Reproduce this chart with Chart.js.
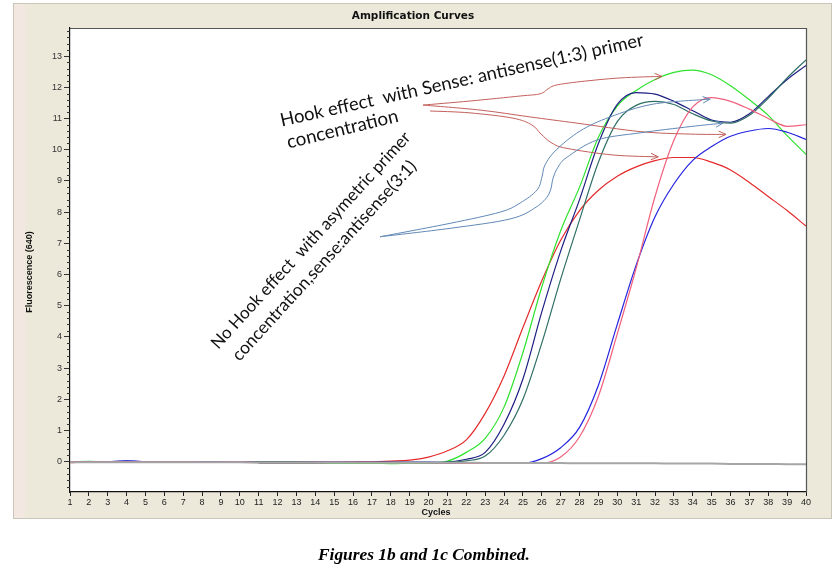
<!DOCTYPE html>
<html><head><meta charset="utf-8">
<script src="https://cdn.jsdelivr.net/npm/chart.js@4"></script>
<style>html,body{margin:0;padding:0;background:#fff;}canvas{display:block}</style>
</head><body>
<canvas id="c" width="839" height="566"></canvas>
<script>
// ---------------- data ----------------
const cycles = [1,2,3,4,5,6,7,8,9,10,11,12,13,14,15,16,17,18,19,20,21,22,23,24,25,26,27,28,29,30,31,32,33,34,35,36,37,38,39,40];
const yTicks = [0,1,2,3,4,5,6,7,8,9,10,11,12,13];

const redEarly  = [-0.03,0,0,0,0,0,0,0,0,-0.01,-0.02,-0.02,-0.02,-0.02,-0.02,-0.01,0,0.02,0.05,0.15,0.35,0.7,1.55,2.75,4.3,5.8,7.1,8.05,8.7,9.15,9.45,9.65,9.75,9.75,9.6,9.35,8.95,8.5,8.05,7.55];
const green     = [0,0.01,0,0,0,0,0,0,0,0,0,0,0,-0.02,-0.05,-0.05,-0.05,-0.06,-0.05,-0.04,0.02,0.3,0.75,1.75,3.5,5.6,7.4,8.8,10.4,11.4,11.9,12.25,12.48,12.55,12.4,12.05,11.6,11.1,10.45,9.85];
const navy      = [0,0,0,0.02,0,0,0,0,0,0,-0.02,-0.02,-0.02,-0.02,-0.02,-0.02,-0.02,-0.02,-0.02,-0.02,-0.01,0.08,0.3,1.2,2.65,4.8,6.75,8.4,10.2,11.45,11.83,11.78,11.55,11.25,10.95,10.88,11.15,11.7,12.25,12.7];
const teal      = [0,0,0,0,0,0,0,0,0,0,-0.02,-0.02,-0.02,-0.02,-0.02,-0.02,-0.02,-0.02,-0.02,-0.02,-0.01,0.03,0.18,0.85,2.0,3.8,5.85,7.75,9.6,10.9,11.42,11.55,11.45,11.15,10.92,10.85,11.1,11.65,12.3,12.88];
const blueLate  = [0,0,0,0.03,0,-0.01,-0.01,0,0,0,-0.02,-0.02,-0.02,-0.02,-0.02,-0.02,-0.02,-0.02,-0.02,-0.02,-0.03,-0.05,-0.05,-0.05,-0.05,0.1,0.45,1.1,2.45,4.4,6.3,7.85,8.9,9.66,10.1,10.43,10.6,10.68,10.56,10.33];
const pinkLate  = [0,0,0,0,0,0,0,-0.01,-0.01,0,-0.02,-0.02,-0.02,-0.02,-0.02,-0.02,-0.02,-0.03,-0.03,-0.03,-0.04,-0.05,-0.05,-0.05,-0.05,-0.05,0.15,0.8,2.1,4.1,6.2,8.5,10.3,11.37,11.67,11.55,11.3,11.0,10.75,10.8];
const darkBase  = [null,null,null,null,null,null,null,null,null,null,-0.04,-0.04,-0.04,-0.04,-0.04,-0.04,-0.04,-0.04,-0.04,-0.04,-0.04,-0.04,-0.04,-0.04,-0.04,-0.04,-0.04,null,null,null,null,null,null,null,null,null,null,null,null,null];
const grayBase  = [-0.02,-0.02,-0.02,-0.02,-0.02,-0.02,-0.02,-0.02,-0.02,-0.02,-0.03,-0.03,-0.03,-0.03,-0.03,-0.03,-0.03,-0.03,-0.03,-0.03,-0.03,-0.03,-0.04,-0.04,-0.04,-0.04,-0.04,-0.05,-0.05,-0.05,-0.05,-0.05,-0.06,-0.06,-0.06,-0.07,-0.07,-0.07,-0.08,-0.08];

// hand-drawn annotation arrows, in (cycle, fluorescence) coordinates
const arrowRedA = [[19.71,11.43],[22.20,11.56],[24.85,11.72],[25.91,11.79],[26.33,11.95],[26.76,12.07],[28.03,12.18],[30.15,12.30],[32.37,12.35]];
const arrowRedB = [[19.71,11.43],[22.73,11.27],[25.38,11.05],[27.87,10.85],[31.21,10.58],[33.86,10.50],[35.76,10.49]];
const arrowRedC = [[20.08,11.24],[22.20,11.18],[24.48,11.01],[25.48,10.79],[25.96,10.50],[26.54,10.21],[27.34,10.04],[29.78,9.83],[32.17,9.77]];
const arrowBlueA = [[17.43,7.21],[21.14,7.64],[23.79,8.00],[24.85,8.29],[25.75,8.71],[26.01,9.13],[26.17,9.51],[26.76,9.99],[28.03,10.60],[29.62,11.05],[31.90,11.46],[34.92,11.62]];
const arrowBlueB = [[17.43,7.21],[21.14,7.48],[24.32,7.78],[25.70,8.16],[26.38,8.58],[26.60,9.09],[26.86,9.44],[27.34,9.76],[28.93,10.31],[31.21,10.54],[33.86,10.74],[35.60,10.85]];

const hookLines = ["Hook effect  with Sense: antisense(1:3) primer", "concentration"];
const noHookLines = ["No Hook effect  with asymetric primer", "concentration,sense:antisense(3:1)"];

// ---------------- helpers ----------------
function series(vals){ return vals.map((v,i)=>({x:cycles[i], y:v})); }
function ds(label, vals, color, width){
  return {label, data: series(vals), borderColor: color, borderWidth: width||1.2,
          pointRadius:0, fill:false, cubicInterpolationMode:'monotone', spanGaps:false};
}

function drawSpline(ctx, pts){
  ctx.beginPath();
  ctx.moveTo(pts[0][0], pts[0][1]);
  for (let i=0;i<pts.length-1;i++){
    const p0 = pts[i-1]||pts[i], p1 = pts[i], p2 = pts[i+1], p3 = pts[i+2]||p2;
    const t = 1/6;
    ctx.bezierCurveTo(p1[0]+(p2[0]-p0[0])*t, p1[1]+(p2[1]-p0[1])*t,
                      p2[0]-(p3[0]-p1[0])*t, p2[1]-(p3[1]-p1[1])*t, p2[0], p2[1]);
  }
  ctx.stroke();
  const a = pts[pts.length-2], b = pts[pts.length-1];
  const ang = Math.atan2(b[1]-a[1], b[0]-a[0]);
  const L = 8, sp = 0.42;
  ctx.beginPath();
  ctx.moveTo(b[0]-L*Math.cos(ang-sp), b[1]-L*Math.sin(ang-sp));
  ctx.lineTo(b[0], b[1]);
  ctx.lineTo(b[0]-L*Math.cos(ang+sp), b[1]-L*Math.sin(ang+sp));
  ctx.stroke();
}

function fitText(ctx, text, x, y, angDeg, targetLen, family, style){
  ctx.save();
  ctx.font = `${style} 20px ${family}`;
  const w = ctx.measureText(text).width;
  const size = 20*targetLen/w;
  ctx.font = `${style} ${size}px ${family}`;
  ctx.translate(x, y);
  ctx.rotate(angDeg*Math.PI/180);
  ctx.textAlign = 'left'; ctx.textBaseline = 'alphabetic';
  ctx.fillText(text, 0, 0);
  ctx.restore();
}

const framePlugin = {
  id:'frame',
  beforeDraw(chart){
    const ctx = chart.ctx, a = chart.chartArea;
    ctx.save();
    ctx.fillStyle = '#ffffff'; ctx.fillRect(0,0,chart.width,chart.height);
    ctx.fillStyle = '#ece9db'; ctx.fillRect(13,3,819,516);
    ctx.fillStyle = '#f3e7e1'; ctx.fillRect(13,3,12,516);
    ctx.strokeStyle = '#c9c5b8'; ctx.lineWidth = 1;
    ctx.strokeRect(13.5,3.5,818,515);
    ctx.fillStyle = '#ffffff'; ctx.fillRect(a.left, a.top, a.right-a.left, a.bottom-a.top);
    ctx.restore();
  },
  afterDatasetsDraw(chart){
    const ctx = chart.ctx, a = chart.chartArea, xs = chart.scales.x, ys = chart.scales.y;
    const P = arr => arr.map(p=>[xs.getPixelForValue(p[0]), ys.getPixelForValue(p[1])]);
    ctx.save();
    ctx.lineWidth = 1;
    ctx.strokeStyle = '#c4605c';
    [arrowRedA, arrowRedB, arrowRedC].forEach(p=>drawSpline(ctx, P(p)));
    ctx.strokeStyle = '#6189b6';
    [arrowBlueA, arrowBlueB].forEach(p=>drawSpline(ctx, P(p)));
    // frame top/right
    ctx.strokeStyle = '#555'; ctx.lineWidth = 1.2;
    ctx.beginPath();
    ctx.moveTo(a.left, a.top+0.5); ctx.lineTo(a.right+0.5, a.top+0.5); ctx.lineTo(a.right+0.5, a.bottom);
    ctx.stroke();
    // minor y ticks
    ctx.strokeStyle = '#333'; ctx.lineWidth = 1;
    for (let v=-0.8; v<=13.81; v+=0.2){
      const r = Math.round(v*5)/5;
      if (Math.abs(r-Math.round(r))<1e-6) continue;
      const y = Math.round(ys.getPixelForValue(r))+0.5;
      ctx.beginPath(); ctx.moveTo(a.left-3, y); ctx.lineTo(a.left, y); ctx.stroke();
    }
    ctx.restore();
  },
  afterDraw(chart){
    const ctx = chart.ctx, xs = chart.scales.x, ys = chart.scales.y;
    ctx.save();
    ctx.fillStyle = '#111';
    ctx.textAlign = 'center'; ctx.textBaseline = 'middle';
    ctx.font = 'bold 10.5px "DejaVu Sans"';
    ctx.fillText('Amplification Curves', 413, 16);
    ctx.font = 'bold 9px "Liberation Sans"';
    ctx.fillText('Cycles', 436, 513);
    ctx.save();
    ctx.translate(30, 272); ctx.rotate(-Math.PI/2);
    ctx.fillText('Fluorescence (640)', 0, 0);
    ctx.restore();
    // caption
    ctx.fillStyle = '#000';
    fitText(ctx, 'Figures 1b and 1c Combined.', 318, 560, 0, 212, '"Liberation Serif"', 'italic bold');
    // annotations
    ctx.fillStyle = '#111';
    const px = (c,v)=>[xs.getPixelForValue(c), ys.getPixelForValue(v)];
    let p = px(12.22, 10.74);
    fitText(ctx, hookLines[0], p[0], p[1], -12.6, 372, 'Lato', 'normal');
    p = px(12.58, 10.04);
    fitText(ctx, hookLines[1], p[0], p[1], -13.6, 114, 'Lato', 'normal');
    p = px(8.85, 3.58);
    fitText(ctx, noHookLines[0], p[0], p[1], -47.6, 287, 'Lato', 'normal');
    p = px(9.98, 3.20);
    fitText(ctx, noHookLines[1], p[0], p[1], -47.6, 264, 'Lato', 'normal');
    ctx.restore();
  }
};

new Chart(document.getElementById('c'), {
  type:'line',
  data:{ datasets:[
    ds('base', grayBase, '#a6a6a6', 2),
    ds('pink', pinkLate, '#f0607e'),
    ds('blue', blueLate, '#2424e0'),
    ds('teal', teal, '#2f6f66'),
    ds('navy', navy, '#1e1e82'),
    ds('green', green, '#2ee22e'),
    ds('red', redEarly, '#e42a2a'),
    ds('dark', darkBase, '#3a2020', 1.4)
  ]},
  options:{
    responsive:false, animation:false, devicePixelRatio:1,
    layout:{ padding:{ left:20, right:33, top:28, bottom:44 } },
    plugins:{ legend:{display:false}, tooltip:{enabled:false}, title:{display:false} },
    scales:{
      x:{ type:'linear', min:1, max:40,
          afterFit(s){ s.height = 30; },
          ticks:{ stepSize:1, autoSkip:false, maxRotation:0, padding:1,
                  font:{family:'"Liberation Sans"', size:9}, color:'#222' },
          grid:{ drawOnChartArea:false, drawTicks:true, tickLength:4, color:'#222' },
          border:{ display:true, color:'#111', width:1.2 } },
      y:{ type:'linear', min:-0.97, max:13.9,
          afterFit(s){ s.width = 50; },
          afterBuildTicks(s){ s.ticks = yTicks.map(v=>({value:v})); },
          ticks:{ padding:2, font:{family:'"Liberation Sans"', size:9}, color:'#333' },
          grid:{ drawOnChartArea:false, drawTicks:true, tickLength:6, color:'#333' },
          border:{ display:true, color:'#111', width:1.2 } }
    }
  },
  plugins:[framePlugin]
});
</script>
</body></html>
